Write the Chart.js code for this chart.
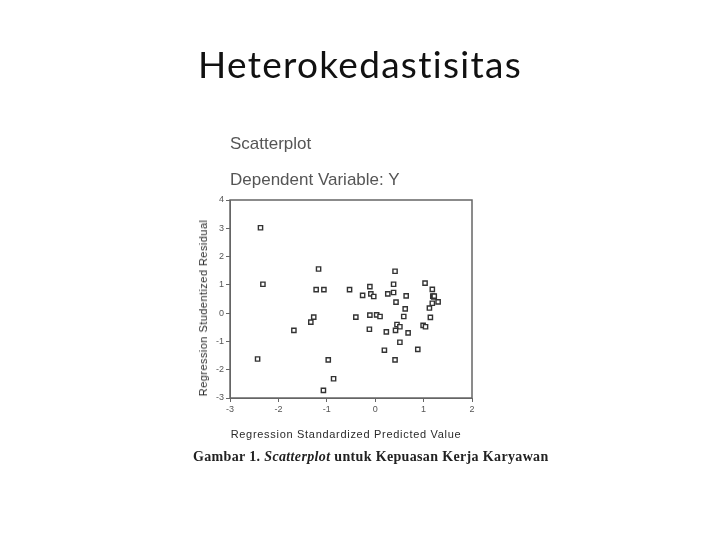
<!DOCTYPE html>
<html>
<head>
<meta charset="utf-8">
<script src="https://cdn.jsdelivr.net/npm/chart.js@4.4.0/dist/chart.umd.min.js"></script>
<style>
  body { margin: 0; background: #fff; }
  #wrap { position: relative; width: 720px; height: 540px; overflow: hidden; }
  #chart { position: absolute; left: 0; top: 0; }
  .txt { position: absolute; white-space: nowrap; }
  #title { left: 0; width: 720px; top: 41px; text-align: center; font: 37px Lato, "Open Sans", sans-serif; color: #111;
           font-variant-ligatures: none; letter-spacing: 1.3px; }
  #sub1 { left: 230px; top: 134px; font: 17px "Liberation Sans", Arial, sans-serif; color: #555; }
  #sub2 { left: 230px; top: 170px; font: 17px "Liberation Sans", Arial, sans-serif; color: #555; }
  #ytitle { left: 203px; top: 308px; font: 11px "Liberation Sans", Arial, sans-serif; color: #2a2a2a;
            transform: translate(-50%, -50%) rotate(-90deg); letter-spacing: 0.45px; }
  #xtitle { left: 346px; top: 428px; transform: translateX(-50%); font: 11px "Liberation Sans", Arial, sans-serif; color: #2a2a2a; letter-spacing: 0.7px; }
  #caption { left: 193px; top: 449px; font: bold 14px "Liberation Serif", "DejaVu Serif", serif; color: #222; letter-spacing: 0.35px; }
</style>
</head>
<body>
<div id="wrap">
  <canvas id="chart" width="720" height="540"></canvas>
  <div class="txt" id="title">Heterokedastisitas</div>
  <div class="txt" id="sub1">Scatterplot</div>
  <div class="txt" id="sub2">Dependent Variable: Y</div>
  <div class="txt" id="ytitle">Regression Studentized Residual</div>
  <div class="txt" id="xtitle">Regression Standardized Predicted Value</div>
  <div class="txt" id="caption">Gambar 1. <i>Scatterplot</i> untuk Kepuasan Kerja Karyawan</div>
</div>
<script>
// DATA
const predicted = [
    -2.37, -2.32, -2.43, -1.17, -1.22, -1.06, -0.53, -1.27, -1.33, -1.68,
    -0.97, -0.86, -1.07, -0.26, -0.11, -0.09, -0.03, -0.40, -0.11, 0.03,
    0.10, -0.12, 0.26, 0.41, 0.38, 0.38, 0.43, 0.64, 0.62, 0.59,
    0.45, 0.51, 0.42, 0.23, 0.68, 0.51, 0.19, 0.41, 0.88, 1.03,
    1.18, 1.19, 1.21, 1.30, 1.18, 1.12, 1.14, 0.99, 1.04, 1.22
];
const residual = [
    3.02, 1.02, -1.62, 1.56, 0.83, 0.83, 0.83, -0.14, -0.32, -0.61,
    -1.65, -2.32, -2.73, 0.63, 0.94, 0.68, 0.59, -0.14, -0.07, -0.06,
    -0.12, -0.57, 0.68, 1.48, 1.02, 0.73, 0.39, 0.61, 0.15, -0.12,
    -0.40, -0.48, -0.61, -0.66, -0.70, -1.03, -1.31, -1.65, -1.28, 1.06,
    0.84, 0.60, 0.57, 0.40, 0.35, 0.18, -0.15, -0.43, -0.48, 0.60
];
const xTicks = [-3, -2, -1, 0, 1, 2];
const yTicks = [-3, -2, -1, 0, 1, 2, 3, 4];

const points = predicted.map((x, i) => ({ x: x, y: residual[i] }));

// frame around the plot area
const framePlugin = {
    id: 'frame',
    afterDraw(chart) {
        const a = chart.chartArea;
        const ctx = chart.ctx;
        ctx.save();
        ctx.strokeStyle = '#666';
        ctx.lineWidth = 1.5;
        ctx.strokeRect(a.left, a.top, a.right - a.left, a.bottom - a.top);
        ctx.restore();
    }
};

const tickFont = { family: '"Liberation Sans", Arial, sans-serif', size: 9 };

new Chart(document.getElementById('chart'), {
    type: 'scatter',
    data: {
        datasets: [{
            data: points,
            pointStyle: 'rect',
            pointRadius: 3,
            pointBorderWidth: 1.4,
            pointBorderColor: '#333',
            pointBackgroundColor: '#fff'
        }]
    },
    options: {
        responsive: false,
        animation: false,
        layout: { padding: { left: 0, right: 248, top: 200, bottom: 120 } },
        plugins: { legend: { display: false }, tooltip: { enabled: false } },
        scales: {
            x: {
                type: 'linear',
                min: -3, max: 2,
                afterBuildTicks: s => { s.ticks = xTicks.map(v => ({ value: v })); },
                afterFit: s => { s.height = 22; },
                grid: { drawOnChartArea: false, tickLength: 4, color: '#666' },
                border: { color: '#666' },
                ticks: { color: '#555', font: tickFont, padding: 2 }
            },
            y: {
                type: 'linear',
                min: -3, max: 4,
                afterBuildTicks: s => { s.ticks = yTicks.map(v => ({ value: v })); },
                afterFit: s => { s.width = 230; },
                grid: { drawOnChartArea: false, tickLength: 4, color: '#666' },
                border: { color: '#666' },
                ticks: { color: '#555', font: tickFont, padding: 2 }
            }
        }
    },
    plugins: [framePlugin]
});
</script>
</body>
</html>
